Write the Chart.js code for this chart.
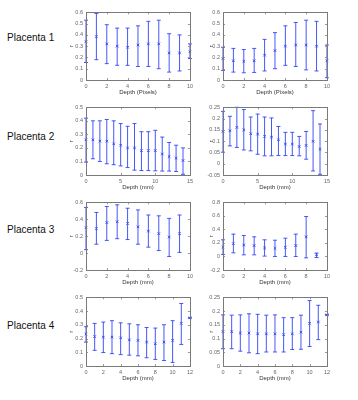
<!DOCTYPE html>
<html><head><meta charset="utf-8">
<script src="https://cdn.jsdelivr.net/npm/chart.js@4/dist/chart.umd.min.js"></script>
<style>
html,body{margin:0;padding:0;background:#fff;width:358px;height:400px;overflow:hidden;font-family:"Liberation Sans",Arial,sans-serif;}
.lab{position:absolute;left:7px;font-size:10px;color:#111;line-height:12px;white-space:nowrap;}
.box{position:absolute;}
</style></head><body>
<div class="lab" style="top:32px">Placenta 1</div>
<div class="lab" style="top:131px">Placenta 2</div>
<div class="lab" style="top:224px">Placenta 3</div>
<div class="lab" style="top:320px">Placenta 4</div>
<script>
// ---------- data ----------
const depthP1 = [0,1,2,3,4,5,6,7,8,9,10];
const depthP2 = [0,1,2,3,4,5,6,7,8,9,10,11,12,13,14];
const depthP3 = [0,1,2,3,4,5,6,7,8,9];
const depthP4 = [0,1,2,3,4,5,6,7,8,9,10,11,12];

const p1L_mean = [0.34,0.385,0.32,0.30,0.29,0.31,0.32,0.32,0.24,0.24,0.25];
const p1L_hi   = [0.53,0.59,0.49,0.46,0.46,0.48,0.52,0.53,0.41,0.40,0.32];
const p1L_lo   = [0.155,0.18,0.145,0.13,0.13,0.12,0.12,0.10,0.07,0.08,0.19];

const p1R_mean = [0.19,0.17,0.165,0.17,0.22,0.26,0.30,0.31,0.31,0.30,0.17];
const p1R_hi   = [0.29,0.28,0.27,0.28,0.36,0.42,0.48,0.51,0.53,0.52,0.31];
const p1R_lo   = [0.085,0.07,0.064,0.067,0.08,0.10,0.13,0.12,0.09,0.08,0.02];

const p2L_mean = [0.26,0.26,0.25,0.25,0.23,0.22,0.20,0.20,0.18,0.18,0.18,0.155,0.136,0.124,0.107];
const p2L_hi   = [0.42,0.40,0.40,0.41,0.40,0.38,0.36,0.38,0.32,0.32,0.33,0.28,0.24,0.22,0.20];
const p2L_lo   = [0.095,0.12,0.10,0.083,0.076,0.067,0.055,0.036,0.033,0.033,0.031,0.029,0.029,0.026,0.005];

const p2R_mean = [0.143,0.146,0.161,0.15,0.133,0.131,0.121,0.118,0.106,0.087,0.087,0.076,0.081,0.099,0.064];
const p2R_hi   = [0.232,0.21,0.25,0.24,0.207,0.22,0.207,0.203,0.165,0.139,0.139,0.121,0.143,0.235,0.176];
const p2R_lo   = [0.051,0.079,0.072,0.061,0.057,0.042,0.035,0.035,0.036,0.036,0.036,0.035,0.02,-0.032,-0.047];

const p3L_mean = [0.30,0.29,0.36,0.37,0.35,0.31,0.26,0.23,0.19,0.23];
const p3L_hi   = [0.54,0.48,0.55,0.57,0.53,0.51,0.45,0.44,0.41,0.45];
const p3L_lo   = [0.04,0.105,0.15,0.17,0.16,0.105,0.07,0.03,-0.04,0.008];

const p3R_mean = [0.135,0.19,0.17,0.16,0.126,0.12,0.135,0.16,0.29,0.025];
const p3R_hi   = [0.246,0.33,0.31,0.29,0.246,0.24,0.27,0.33,0.59,0.05];
const p3R_lo   = [0.03,0.053,0.024,0.024,0.005,0.0,0.0,0.0,-0.02,-0.015];

const p4L_mean = [0.233,0.214,0.21,0.21,0.205,0.19,0.186,0.174,0.162,0.174,0.186,0.31,0.35];
const p4L_hi   = [0.286,0.31,0.32,0.33,0.314,0.307,0.30,0.28,0.276,0.30,0.33,0.455,0.352];
const p4L_lo   = [0.174,0.114,0.098,0.09,0.083,0.079,0.074,0.06,0.048,0.04,0.026,0.157,0.348];

const p4R_mean = [0.125,0.125,0.12,0.12,0.117,0.117,0.117,0.114,0.117,0.123,0.155,0.16,0.186];
const p4R_hi   = [0.186,0.185,0.186,0.19,0.188,0.185,0.186,0.176,0.176,0.185,0.238,0.221,0.187];
const p4R_lo   = [0.063,0.063,0.054,0.048,0.045,0.051,0.051,0.051,0.06,0.061,0.071,0.096,0.185];

const xTicks10 = [0,2,4,6,8,10];
const xTicks15 = [0,5,10,15];
const xTicks12 = [0,2,4,6,8,10,12];
const yTicks06 = [0,0.1,0.2,0.3,0.4,0.5,0.6];
const yTicks05 = [0,0.1,0.2,0.3,0.4,0.5];
const yTicks025n = [-0.05,0,0.05,0.1,0.15,0.2,0.25];
const yTicks06n = [-0.2,0,0.2,0.4,0.6];
const yTicks08n = [-0.2,0,0.2,0.4,0.6,0.8];
const yTicks025 = [0,0.05,0.1,0.15,0.2,0.25];

const xTitlePixels = 'Depth (Pixels)';
const xTitleMm = 'Depth (mm)';
const yTitle = 'r';

// ---------- layout ----------
const panels = [
  {row:0,col:0,x:depthP1,mean:p1L_mean,hi:p1L_hi,lo:p1L_lo,xt:xTicks10,yt:yTicks06,xTitle:xTitlePixels},
  {row:0,col:1,x:depthP1,mean:p1R_mean,hi:p1R_hi,lo:p1R_lo,xt:xTicks10,yt:yTicks06,xTitle:xTitlePixels},
  {row:1,col:0,x:depthP2,mean:p2L_mean,hi:p2L_hi,lo:p2L_lo,xt:xTicks15,yt:yTicks05,xTitle:xTitleMm},
  {row:1,col:1,x:depthP2,mean:p2R_mean,hi:p2R_hi,lo:p2R_lo,xt:xTicks15,yt:yTicks025n,xTitle:xTitleMm},
  {row:2,col:0,x:depthP3,mean:p3L_mean,hi:p3L_hi,lo:p3L_lo,xt:xTicks10,yt:yTicks06n,xTitle:xTitleMm},
  {row:2,col:1,x:depthP3,mean:p3R_mean,hi:p3R_hi,lo:p3R_lo,xt:xTicks10,yt:yTicks08n,xTitle:xTitleMm},
  {row:3,col:0,x:depthP4,mean:p4L_mean,hi:p4L_hi,lo:p4L_lo,xt:xTicks12,yt:yTicks05,xTitle:xTitleMm},
  {row:3,col:1,x:depthP4,mean:p4R_mean,hi:p4R_hi,lo:p4R_lo,xt:xTicks12,yt:yTicks025,xTitle:xTitleMm}
];
const plotTops = [11,106,201,296];
const plotHs = [69,69,69,70];
const colLeft = [60,197];
const yTitlePad = [8.5,11];
const BLUE = 'rgba(50,70,245,0.9)';
const FAM = '"Liberation Sans", Arial, sans-serif';

const fmt = v => String(Math.round(v*100)/100);

const boxPlugin = {
  id:'box',
  afterDraw(chart){
    const {ctx, chartArea:a, scales} = chart;
    ctx.save();
    ctx.strokeStyle = '#999';
    ctx.lineWidth = 1;
    ctx.beginPath();
    scales.x.ticks.forEach(t=>{
      const px = Math.round(scales.x.getPixelForValue(t.value))+0.5;
      ctx.moveTo(px,a.bottom); ctx.lineTo(px,a.bottom-2);
      ctx.moveTo(px,a.top); ctx.lineTo(px,a.top+2);
    });
    scales.y.ticks.forEach(t=>{
      const py = Math.round(scales.y.getPixelForValue(t.value))+0.5;
      ctx.moveTo(a.left,py); ctx.lineTo(a.left+2,py);
      ctx.moveTo(a.right,py); ctx.lineTo(a.right-2,py);
    });
    ctx.stroke();
    ctx.strokeStyle = '#7a7a7a';
    ctx.strokeRect(Math.round(a.left)+0.5, Math.round(a.top)+0.5, Math.round(a.right-a.left), Math.round(a.bottom-a.top));
    ctx.restore();
  }
};

panels.forEach(p=>{
  const w = 136, h = 5 + plotHs[p.row] + 20;
  const div = document.createElement('div');
  div.className = 'box';
  div.style.left = colLeft[p.col]+'px';
  div.style.top = (plotTops[p.row]-5)+'px';
  div.style.width = w+'px'; div.style.height = h+'px';
  const cv = document.createElement('canvas');
  cv.width = w; cv.height = h; cv.style.width = w+'px'; cv.style.height = h+'px';
  div.appendChild(cv);
  document.body.appendChild(div);
  const xt = p.xt, yt = p.yt;
  new Chart(cv, {
    type:'scatter',
    data:{datasets:[
      {type:'bar', data:p.x.map((d,i)=>({x:d,y:[p.lo[i],p.hi[i]]})), backgroundColor:BLUE, borderWidth:0, barThickness:1, inflateAmount:0, grouped:false, clip:false},
      {type:'scatter', data:p.x.map((d,i)=>({x:d,y:p.lo[i]})), pointStyle:'line', pointRadius:2, borderColor:BLUE, borderWidth:1, clip:false},
      {type:'scatter', data:p.x.map((d,i)=>({x:d,y:p.hi[i]})), pointStyle:'line', pointRadius:2, borderColor:BLUE, borderWidth:1, clip:false},
      {type:'scatter', data:p.x.map((d,i)=>({x:d,y:p.mean[i]})), pointStyle:'crossRot', pointRadius:1.8, borderColor:BLUE, borderWidth:1, clip:false}
    ]},
    options:{
      responsive:false, animation:false, devicePixelRatio:1,
      events:[],
      plugins:{legend:{display:false}, tooltip:{enabled:false}},
      layout:{padding:{top:5,right:6,bottom:0,left:0}},
      scales:{
        x:{type:'linear', min:xt[0], max:xt[xt.length-1], offset:false,
          grid:{display:false, drawTicks:false, offset:false}, border:{display:false},
          afterBuildTicks:s=>{s.ticks = xt.map(v=>({value:v}));},
          afterFit:s=>{s.height = 20;},
          ticks:{font:{family:FAM,size:5.5}, color:'#666', padding:3, maxRotation:0, autoSkip:false, callback:v=>fmt(v)},
          title:{display:true, text:p.xTitle, font:{family:FAM,size:6}, color:'#333', padding:{top:0,bottom:4}}
        },
        y:{type:'linear', min:yt[0], max:yt[yt.length-1],
          grid:{display:false, drawTicks:false}, border:{display:false},
          afterBuildTicks:s=>{s.ticks = yt.map(v=>({value:v}));},
          afterFit:s=>{s.width = 26;},
          ticks:{font:{family:FAM,size:5.5}, color:'#666', padding:3, autoSkip:false, callback:v=>fmt(v)},
          title:{display:true, text:yTitle, font:{family:FAM,size:5.5}, color:'#444', padding:{top:yTitlePad[p.col],bottom:0}}
        }
      }
    },
    plugins:[boxPlugin]
  });
});
</script>
</body></html>
